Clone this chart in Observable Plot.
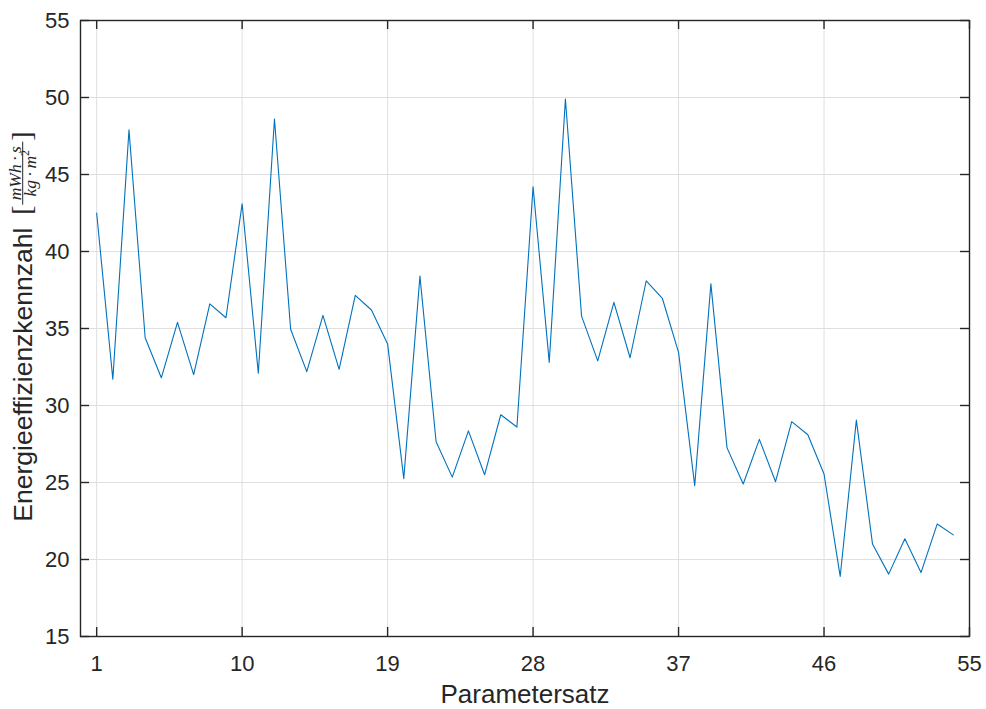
<!DOCTYPE html>
<html>
<head>
<meta charset="utf-8">
<script src="https://cdn.jsdelivr.net/npm/d3@7"></script>
<script src="https://cdn.jsdelivr.net/npm/@observablehq/plot@0.6"></script>
<style>
  html, body { margin: 0; padding: 0; background: #ffffff; }
  #chart { width: 986px; height: 709px; }
</style>
</head>
<body>
<div id="chart"></div>
<script>
// Parameter set index (x) and energy efficiency values (y)
const parameterSets = [1,2,3,4,5,6,7,8,9,10,11,12,13,14,15,16,17,18,19,20,21,22,23,24,25,26,27,28,29,30,31,32,33,34,35,36,37,38,39,40,41,42,43,44,45,46,47,48,49,50,51,52,53,54];
const efficiency = [42.5,31.7,47.9,34.4,31.8,35.4,32.0,36.6,35.7,43.1,32.1,48.6,34.95,32.2,35.85,32.35,37.15,36.2,34.0,25.25,38.4,27.65,25.35,28.35,25.5,29.4,28.6,44.2,32.8,49.9,35.8,32.9,36.7,33.1,38.1,36.95,33.45,24.8,37.9,27.25,24.9,27.8,25.05,28.95,28.1,25.55,18.9,29.05,21.0,19.05,21.35,19.15,22.3,21.6];
const xTicks = [1,10,19,28,37,46,55];
const yTicks = [15,20,25,30,35,40,45,50,55];
const xLabel = "Parametersatz";
const yLabelMain = "Energieeffizienzkennzahl";
const yUnitNumerator = "mWh\u2009·\u2009s";
const yUnitDenominator = "kg\u2009·\u2009m";
const yUnitExponent = "2";

const data = parameterSets.map((p, i) => ({p, v: efficiency[i]}));

const W = 986, H = 709;
const mL = 80, mR = 17, mT = 20, mB = 73;
const plotW = W - mL - mR, plotH = H - mT - mB;
const tickLen = 9;
const axisColor = "#262626";
const gridColor = "#dfdfdf";
const font = "'Liberation Sans', Arial, Helvetica, sans-serif";

const chart = Plot.plot({
  width: W,
  height: H,
  marginLeft: mL,
  marginRight: mR,
  marginTop: mT,
  marginBottom: mB,
  style: {fontFamily: font, background: "#ffffff", color: axisColor},
  x: {domain: [0, 55]},
  y: {domain: [15, 55]},
  marks: [
    Plot.gridX(xTicks, {stroke: gridColor, strokeOpacity: 1, strokeWidth: 1}),
    Plot.gridY(yTicks, {stroke: gridColor, strokeOpacity: 1, strokeWidth: 1}),
    Plot.line(data, {x: "p", y: "v", stroke: "#0072BD", strokeWidth: 1.1}),
    Plot.frame({stroke: axisColor, strokeWidth: 1.4}),
    Plot.tickX(xTicks, {x: d => d, stroke: axisColor, strokeWidth: 1.4, insetTop: plotH - tickLen}),
    Plot.tickX(xTicks, {x: d => d, stroke: axisColor, strokeWidth: 1.4, insetBottom: plotH - tickLen}),
    Plot.tickY(yTicks, {y: d => d, stroke: axisColor, strokeWidth: 1.4, insetRight: plotW - tickLen}),
    Plot.tickY(yTicks, {y: d => d, stroke: axisColor, strokeWidth: 1.4, insetLeft: plotW - tickLen}),
    Plot.axisX(xTicks, {anchor: "bottom", tickSize: 0, tickPadding: 19, fontSize: 22, label: null, fill: axisColor}),
    Plot.axisY(yTicks, {anchor: "left", tickSize: 0, tickPadding: 11, fontSize: 22, label: null, fill: axisColor}),
    Plot.text([xLabel], {text: d => d, frameAnchor: "bottom", dy: 58, fontSize: 26, fill: axisColor, lineAnchor: "middle"})
  ]
});

document.getElementById("chart").appendChild(chart);

// Y-axis label with unit fraction (rotated)
const svg = d3.select(chart);
const g = svg.append("g")
  .attr("transform", "translate(32,521.7) rotate(-90)")
  .attr("fill", axisColor);
g.append("text")
  .attr("x", 0).attr("y", 0)
  .attr("text-anchor", "start")
  .attr("font-family", font)
  .attr("font-size", 26.5)
  .text(yLabelMain);
const serif = "'Liberation Serif', 'DejaVu Serif', 'Times New Roman', serif";
g.append("text")
  .attr("x", 307).attr("y", -1)
  .attr("text-anchor", "start")
  .attr("font-family", serif)
  .attr("font-size", 28)
  .text("[");
g.append("text")
  .attr("x", 348.5).attr("y", -11.5)
  .attr("text-anchor", "middle")
  .attr("font-family", serif)
  .attr("font-style", "italic")
  .attr("font-size", 17.5)
  .text(yUnitNumerator);
g.append("line")
  .attr("x1", 317).attr("x2", 380)
  .attr("y1", -9.3).attr("y2", -9.3)
  .attr("stroke", axisColor).attr("stroke-width", 1);
const den = g.append("text")
  .attr("x", 348.5).attr("y", 3.5)
  .attr("text-anchor", "middle")
  .attr("font-family", serif)
  .attr("font-style", "italic")
  .attr("font-size", 17.5);
den.append("tspan").text(yUnitDenominator);
den.append("tspan").attr("font-size", 12).attr("font-style", "normal").attr("dy", -6.5).text(yUnitExponent);
g.append("text")
  .attr("x", 381).attr("y", -1)
  .attr("text-anchor", "start")
  .attr("font-family", serif)
  .attr("font-size", 28)
  .text("]");
</script>
</body>
</html>
